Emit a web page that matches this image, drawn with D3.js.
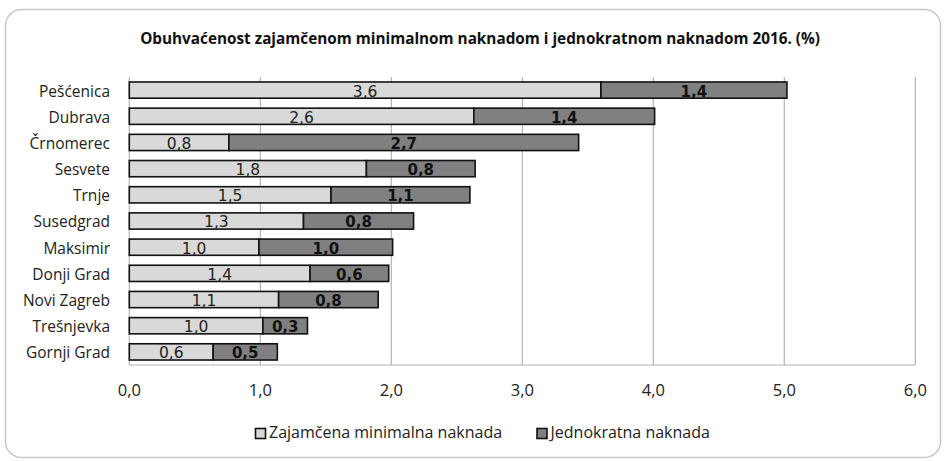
<!DOCTYPE html>
<html><head><meta charset="utf-8">
<script src="https://cdn.jsdelivr.net/npm/d3@7/dist/d3.min.js"></script>
<style>body{margin:0;background:#fff}svg{display:block}</style>
</head><body>
<svg id="c" width="946" height="461"></svg>
<script>
const categories = ["Pešćenica","Dubrava","Črnomerec","Sesvete","Trnje","Susedgrad","Maksimir","Donji Grad","Novi Zagreb","Trešnjevka","Gornji Grad"];
const zmn = [3.6,2.63,0.76,1.81,1.54,1.33,0.99,1.38,1.14,1.02,0.64];
const jn = [1.42,1.38,2.67,0.83,1.06,0.84,1.02,0.60,0.76,0.34,0.49];
const seriesNames = ["Zajamčena minimalna naknada","Jednokratna naknada"];
const xTicks = [0,1,2,3,4,5,6];
const title = "Obuhvaćenost zajamčenom minimalnom naknadom i jednokratnom naknadom 2016. (%)";

const fontUI = "'Open Sans', sans-serif";
const fontV = "'DejaVu Sans', sans-serif";
const svg = d3.select("#c");
svg.append("rect").attr("x",5.5).attr("y",9.5).attr("width",935).attr("height",448)
  .attr("rx",16).attr("fill","#fff").attr("stroke","#c8c8c8").attr("stroke-width",1.5);

svg.append("text").attr("x",480).attr("y",43.5).attr("text-anchor","middle")
  .attr("font-family",fontUI).attr("font-weight","bold").attr("font-size",15.3).attr("fill","#111").text(title);

const x = d3.scaleLinear().domain([0,6]).range([129.3,915.3]);
const y = d3.scaleBand().domain(categories).range([77,365]).paddingInner(0.38).paddingOuter(0.19);

const g = svg.append("g");
g.selectAll(".grid").data(xTicks).join("line")
  .attr("x1",d=>x(d)).attr("x2",d=>x(d)).attr("y1",77).attr("y2",365)
  .attr("stroke","#b4b4b4").attr("stroke-width",1.2);
g.append("line").attr("x1",x(0)).attr("x2",x(6)).attr("y1",365).attr("y2",365)
  .attr("stroke","#b4b4b4").attr("stroke-width",1.2);

const fmt = v => v.toFixed(1).replace(".",",");
const rows = categories.map((c,i)=>({c, a:zmn[i], b:jn[i]}));
const bh = y.bandwidth();
g.selectAll(".ra").data(rows).join("rect")
  .attr("x",d=>x(0)).attr("y",d=>y(d.c)).attr("width",d=>x(d.a)-x(0)).attr("height",bh)
  .attr("fill","#d9d9d9").attr("stroke","#111").attr("stroke-width",1.6);
g.selectAll(".rb").data(rows).join("rect")
  .attr("x",d=>x(d.a)).attr("y",d=>y(d.c)).attr("width",d=>x(d.a+d.b)-x(d.a)).attr("height",bh)
  .attr("fill","#808080").attr("stroke","#111").attr("stroke-width",1.6);

g.selectAll(".la").data(rows).join("text")
  .attr("x",d=>(x(0)+x(d.a))/2).attr("y",d=>y(d.c)+14.6)
  .attr("text-anchor","middle").attr("font-family",fontV).attr("font-size",15.5).attr("fill","#222")
  .text(d=>fmt(d.a));
g.selectAll(".lb").data(rows).join("text")
  .attr("x",d=>(x(d.a)+x(d.a+d.b))/2).attr("y",d=>y(d.c)+14.6)
  .attr("text-anchor","middle").attr("font-family",fontV).attr("font-weight","bold").attr("font-size",15).attr("fill","#111")
  .text(d=>fmt(d.b));

g.selectAll(".cat").data(categories).join("text")
  .attr("x",110).attr("y",d=>y(d)+14.6).attr("text-anchor","end")
  .attr("font-family",fontUI).attr("font-size",15.5).attr("fill","#222").text(d=>d);

g.selectAll(".tick").data(xTicks).join("text")
  .attr("x",d=>x(d)).attr("y",395.5).attr("text-anchor","middle")
  .attr("font-family",fontUI).attr("font-size",16.5).attr("fill","#222").text(d=>fmt(d));

const leg = [{n:seriesNames[0],c:"#d9d9d9",x:255.5},{n:seriesNames[1],c:"#808080",x:537}];
leg.forEach(l=>{
  svg.append("rect").attr("x",l.x).attr("y",428.5).attr("width",10).attr("height",10)
    .attr("fill",l.c).attr("stroke","#111").attr("stroke-width",1.6);
  svg.append("text").attr("x",l.x+13.5).attr("y",438).attr("font-family",fontUI).attr("font-size",16)
    .attr("fill","#222").text(l.n);
});
</script>
</body></html>
